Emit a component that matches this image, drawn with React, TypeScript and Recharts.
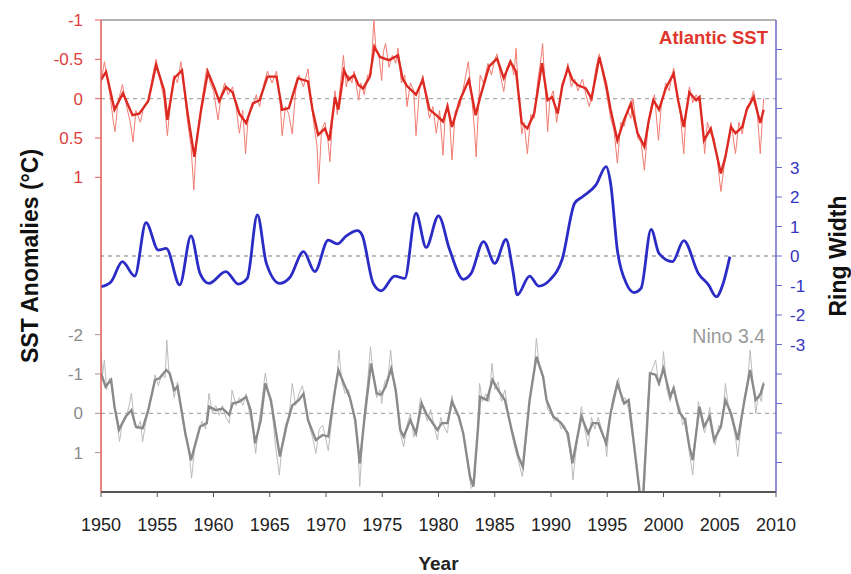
import React from 'react';
import { ComposedChart, Line, XAxis, YAxis, ReferenceLine } from 'recharts';

// [year, value] pairs
type Pt = [number, number];

const yearTicks = [1950, 1955, 1960, 1965, 1970, 1975, 1980, 1985, 1990, 1995, 2000, 2005, 2010];
const sstTicks = [-1, -0.5, 0, 0.5, 1];
const ninoTicks = [-2, -1, 0, 1];
const ringTicks = [-7, -6, -5, -4, -3, -2, -1, 0, 1, 2, 3, 4, 5, 6, 7];
const ringLabelled = [-3, -2, -1, 0, 1, 2, 3];

// Atlantic SST anomaly (°C), smoothed
const atlanticSmooth: Pt[] = [
  [1950.0, -0.24], [1950.45, -0.34], [1951.2, 0.14], [1951.95, -0.07], [1952.8, 0.21], [1953.4, 0.19],
  [1954.2, 0.03], [1954.9, -0.43], [1955.6, -0.11], [1955.9, 0.27], [1956.5, -0.26], [1957.2, -0.36],
  [1957.7, 0.19], [1958.3, 0.74], [1958.9, 0.14], [1959.5, -0.34], [1960.1, -0.13], [1960.5, 0.03],
  [1961.1, -0.15], [1961.7, -0.08], [1962.3, 0.19], [1962.9, 0.31], [1963.5, 0.06], [1964.1, 0.02],
  [1964.8, -0.28], [1965.6, -0.28], [1966.1, 0.14], [1966.7, 0.12], [1967.5, -0.26], [1968.4, -0.22],
  [1968.8, 0.14], [1969.3, 0.46], [1969.9, 0.38], [1970.3, 0.53], [1970.8, -0.02], [1971.1, 0.14],
  [1971.6, -0.36], [1972.0, -0.24], [1972.5, -0.30], [1972.9, -0.17], [1973.3, -0.13], [1973.9, -0.28],
  [1974.3, -0.66], [1974.8, -0.53], [1975.2, -0.51], [1975.6, -0.49], [1976.4, -0.55], [1976.8, -0.26],
  [1977.2, -0.16], [1978.0, -0.05], [1978.6, -0.24], [1979.2, 0.14], [1979.8, 0.21], [1980.4, 0.29],
  [1980.8, 0.10], [1981.2, 0.36], [1981.9, 0.02], [1982.7, -0.24], [1983.3, 0.21], [1983.7, -0.02],
  [1984.5, -0.41], [1985.2, -0.51], [1985.8, -0.26], [1986.4, -0.47], [1986.9, -0.34], [1987.4, 0.31],
  [1987.9, 0.38], [1988.5, 0.19], [1989.2, -0.45], [1989.7, 0.02], [1990.1, -0.02], [1990.6, 0.19],
  [1991.0, -0.16], [1991.5, -0.39], [1991.9, -0.24], [1992.4, -0.17], [1993.1, -0.13], [1993.6, 0.0],
  [1994.3, -0.53], [1994.9, -0.18], [1995.3, 0.14], [1995.9, 0.53], [1996.5, 0.27], [1997.1, 0.06],
  [1997.7, 0.44], [1998.3, 0.61], [1998.7, 0.27], [1999.1, 0.02], [1999.6, 0.14], [2000.2, -0.13],
  [2000.9, -0.32], [2001.3, 0.02], [2001.8, 0.36], [2002.3, -0.08], [2002.9, 0.02], [2003.2, -0.02],
  [2003.6, 0.53], [2004.2, 0.38], [2004.7, 0.69], [2005.1, 0.95], [2005.5, 0.74], [2006.0, 0.36],
  [2006.4, 0.44], [2007.0, 0.36], [2007.4, 0.14], [2008.0, -0.02], [2008.6, 0.31], [2008.9, 0.14],
];

// Atlantic SST anomaly (°C), monthly
const atlanticRaw: Pt[] = [
  [1950.0, -0.2], [1950.3, -0.47], [1950.5, -0.3], [1950.8, -0.05], [1951.1, 0.3], [1951.25, 0.42],
  [1951.5, 0.05], [1951.9, -0.18], [1952.2, 0.05], [1952.6, 0.3], [1952.85, 0.55], [1953.1, 0.15],
  [1953.5, 0.3], [1953.8, 0.1], [1954.2, 0.05], [1954.6, -0.3], [1954.9, -0.5], [1955.3, -0.2],
  [1955.6, 0.0], [1955.9, 0.47], [1956.2, 0.0], [1956.5, -0.3], [1956.8, -0.2], [1957.1, -0.47],
  [1957.4, -0.1], [1957.7, 0.3], [1958.0, 0.6], [1958.25, 1.16], [1958.5, 0.5], [1958.8, 0.2],
  [1959.1, -0.1], [1959.4, -0.39], [1959.7, -0.2], [1960.0, -0.1], [1960.4, 0.27], [1960.7, -0.05],
  [1961.0, -0.2], [1961.3, -0.05], [1961.7, -0.15], [1962.0, 0.1], [1962.3, 0.44], [1962.6, 0.15],
  [1962.85, 0.7], [1963.1, 0.2], [1963.5, 0.1], [1963.8, -0.05], [1964.1, 0.1], [1964.5, -0.2],
  [1964.8, -0.35], [1965.2, -0.2], [1965.6, -0.35], [1965.9, 0.0], [1966.1, 0.47], [1966.4, 0.1],
  [1966.7, 0.2], [1967.0, 0.45], [1967.3, -0.1], [1967.6, -0.3], [1968.0, -0.15], [1968.4, -0.38],
  [1968.7, 0.05], [1968.9, 0.3], [1969.2, 0.6], [1969.35, 1.08], [1969.6, 0.4], [1969.9, 0.3],
  [1970.15, 0.5], [1970.35, 0.8], [1970.6, 0.2], [1970.8, -0.1], [1971.0, 0.2], [1971.3, -0.2],
  [1971.55, -0.55], [1971.8, -0.15], [1972.0, -0.3], [1972.3, -0.2], [1972.5, -0.35], [1972.9, 0.02],
  [1973.1, -0.2], [1973.4, -0.05], [1973.7, -0.3], [1974.0, -0.3], [1974.25, -1.0], [1974.45, -0.6],
  [1974.7, -0.55], [1974.95, -0.23], [1975.1, -0.6], [1975.3, -0.7], [1975.6, -0.4], [1975.9, -0.55],
  [1976.2, -0.45], [1976.4, -0.64], [1976.7, -0.2], [1977.0, -0.3], [1977.2, 0.1], [1977.5, -0.2],
  [1977.8, -0.1], [1978.0, 0.47], [1978.3, -0.1], [1978.6, -0.3], [1978.9, 0.0], [1979.2, 0.25],
  [1979.5, 0.1], [1979.8, 0.44], [1980.1, 0.15], [1980.4, 0.72], [1980.6, 0.2], [1980.8, 0.05],
  [1981.0, 0.3], [1981.2, 0.78], [1981.5, 0.15], [1981.9, 0.1], [1982.3, -0.2], [1982.65, -0.47],
  [1982.9, -0.1], [1983.2, 0.4], [1983.35, 0.74], [1983.55, 0.1], [1983.7, -0.3], [1984.0, -0.2],
  [1984.4, -0.45], [1984.7, -0.3], [1985.0, -0.5], [1985.2, -0.57], [1985.5, -0.3], [1985.8, -0.09],
  [1986.1, -0.4], [1986.4, -0.5], [1986.7, -0.3], [1986.9, -0.64], [1987.1, -0.1], [1987.4, 0.45],
  [1987.6, 0.3], [1987.9, 0.7], [1988.2, 0.2], [1988.5, 0.25], [1988.8, -0.2], [1989.1, -0.5],
  [1989.25, -0.7], [1989.5, -0.1], [1989.7, 0.42], [1989.9, 0.0], [1990.2, -0.1], [1990.5, 0.3],
  [1990.7, 0.1], [1991.0, -0.2], [1991.3, -0.3], [1991.5, -0.45], [1991.8, -0.15], [1992.1, -0.25],
  [1992.4, -0.1], [1992.8, -0.25], [1993.1, -0.05], [1993.4, 0.1], [1993.7, -0.1], [1994.0, -0.4],
  [1994.3, -0.57], [1994.6, -0.3], [1994.9, -0.1], [1995.3, 0.25], [1995.6, 0.4], [1995.9, 0.82],
  [1996.2, 0.3], [1996.5, 0.35], [1996.8, 0.15], [1997.1, 0.25], [1997.3, 0.0], [1997.7, 0.5],
  [1998.0, 0.55], [1998.3, 0.91], [1998.6, 0.4], [1998.9, 0.1], [1999.2, -0.05], [1999.55, 0.53],
  [1999.8, 0.1], [2000.2, -0.2], [2000.5, -0.1], [2000.9, -0.39], [2001.2, -0.05], [2001.5, 0.2],
  [2001.8, 0.7], [2002.0, 0.2], [2002.3, -0.15], [2002.6, 0.05], [2002.9, -0.05], [2003.2, 0.05],
  [2003.5, 0.35], [2003.65, 0.7], [2003.9, 0.3], [2004.2, 0.45], [2004.5, 0.5], [2004.8, 0.8],
  [2005.1, 1.18], [2005.4, 0.85], [2005.7, 0.6], [2006.0, 0.3], [2006.4, 0.7], [2006.7, 0.3],
  [2007.0, 0.45], [2007.4, 0.1], [2007.7, 0.05], [2008.0, -0.1], [2008.3, 0.1], [2008.6, 0.7],
  [2008.9, 0.0],
];

// Tree ring width index
const ringWidth: Pt[] = [
  [1950.0, -1.04], [1950.9, -0.87], [1951.9, -0.19], [1953.0, -0.68], [1954.0, 1.13], [1955.1, 0.2],
  [1955.8, 0.26], [1957.0, -0.98], [1958.0, 0.68], [1958.8, -0.59], [1959.6, -0.93], [1961.1, -0.53],
  [1962.2, -0.95], [1963.0, -0.76], [1963.9, 1.39], [1964.7, -0.25], [1965.9, -0.93], [1966.8, -0.72],
  [1968.0, 0.15], [1969.0, -0.53], [1970.2, 0.54], [1971.0, 0.41], [1971.8, 0.68], [1972.8, 0.86],
  [1973.2, 0.72], [1974.2, -0.93], [1974.9, -1.18], [1976.1, -0.68], [1977.0, -0.76], [1978.0, 1.45],
  [1978.9, 0.29], [1980.0, 1.36], [1981.0, 0.2], [1982.2, -0.79], [1982.9, -0.59], [1984.0, 0.49],
  [1985.0, -0.25], [1986.0, 0.56], [1986.6, -0.47], [1987.0, -1.32], [1988.1, -0.68], [1988.9, -1.02],
  [1989.9, -0.81], [1991.0, -0.1], [1992.1, 1.79], [1992.8, 2.01], [1994.0, 2.41], [1994.9, 3.03],
  [1995.3, 2.46], [1995.9, 0.2], [1996.7, -0.93], [1997.4, -1.24], [1998.0, -1.1], [1998.9, 0.9],
  [1999.6, 0.09], [2000.8, -0.19], [2001.8, 0.52], [2003.1, -0.59], [2004.0, -0.98], [2004.7, -1.38],
  [2005.3, -0.93], [2005.9, -0.02],
];

// Nino 3.4 anomaly (°C), smoothed
const ninoSmooth: Pt[] = [
  [1950.0, -1.02], [1950.4, -0.68], [1950.9, -0.85], [1951.2, -0.17], [1951.6, 0.42], [1952.2, 0.08],
  [1952.7, -0.08], [1953.1, 0.34], [1953.7, 0.38], [1954.2, -0.08], [1954.8, -0.85], [1955.2, -0.89],
  [1955.8, -1.1], [1956.1, -1.02], [1956.5, -0.59], [1956.8, -0.68], [1957.5, 0.51], [1958.0, 1.19],
  [1958.8, 0.34], [1959.4, 0.25], [1959.6, -0.17], [1960.2, -0.08], [1960.8, -0.12], [1961.4, 0.04],
  [1961.7, -0.25], [1962.3, -0.3], [1962.9, -0.42], [1963.3, -0.08], [1963.7, 0.76], [1964.2, 0.17],
  [1964.6, -0.76], [1965.1, -0.34], [1965.9, 1.1], [1966.5, 0.3], [1967.0, -0.2], [1967.6, -0.34],
  [1968.0, -0.5], [1968.4, 0.17], [1969.1, 0.68], [1969.7, 0.55], [1970.2, 0.59], [1970.8, -0.59],
  [1971.1, -1.1], [1971.7, -0.68], [1972.1, -0.42], [1972.6, 0.17], [1973.0, 1.27], [1973.4, 0.17],
  [1974.0, -1.27], [1974.5, -0.51], [1974.9, -0.47], [1975.3, -0.68], [1975.8, -1.14], [1976.2, -0.59],
  [1976.6, 0.42], [1976.9, 0.59], [1977.5, 0.17], [1978.0, 0.51], [1978.5, -0.25], [1978.9, 0.0],
  [1979.3, 0.17], [1979.9, 0.42], [1980.3, 0.25], [1980.8, 0.25], [1981.2, -0.3], [1981.8, 0.08],
  [1982.2, 0.51], [1982.8, 1.61], [1983.1, 1.86], [1983.5, 0.42], [1983.7, -0.42], [1984.3, -0.34],
  [1984.8, -0.85], [1985.3, -0.59], [1985.9, -0.34], [1986.5, 0.42], [1987.1, 1.1], [1987.5, 1.36],
  [1988.1, -0.34], [1988.7, -1.44], [1989.3, -0.93], [1989.6, -0.34], [1990.2, 0.08], [1990.9, 0.25],
  [1991.5, 0.51], [1991.9, 1.27], [1992.7, 0.08], [1993.3, 0.51], [1993.7, 0.25], [1994.2, 0.25],
  [1994.9, 0.76], [1995.3, 0.0], [1995.9, -0.76], [1996.5, -0.25], [1996.9, -0.34], [1997.4, 0.85],
  [1997.9, 2.05], [1998.2, 2.05], [1998.8, -1.02], [1999.3, -0.98], [1999.6, -0.76], [2000.0, -1.14],
  [2000.6, -0.42], [2000.9, -0.64], [2001.4, -0.04], [2001.9, 0.17], [2002.3, 0.85], [2002.6, 1.19],
  [2003.2, -0.17], [2003.6, 0.34], [2004.1, 0.08], [2004.5, 0.68], [2005.1, 0.34], [2005.5, -0.34],
  [2006.0, 0.0], [2006.6, 0.68], [2007.2, -0.34], [2007.7, -1.1], [2008.2, -0.34], [2008.6, -0.47],
  [2008.9, -0.76],
];

// Nino 3.4 anomaly (°C), monthly
const ninoRaw: Pt[] = [
  [1950.0, -1.57], [1950.15, -1.0], [1950.3, -1.36], [1950.5, -0.6], [1950.75, -0.9], [1950.95, -0.7],
  [1951.2, -0.1], [1951.45, 0.3], [1951.65, 0.72], [1951.9, 0.2], [1952.2, 0.15], [1952.5, -0.2],
  [1952.7, -0.51], [1952.95, 0.2], [1953.2, 0.4], [1953.5, 0.2], [1953.7, 0.72], [1954.0, 0.2],
  [1954.3, -0.2], [1954.6, -0.6], [1954.8, -0.98], [1955.1, -0.7], [1955.4, -1.0], [1955.7, -0.9],
  [1955.85, -1.86], [1956.05, -1.0], [1956.3, -0.8], [1956.5, -0.4], [1956.8, -0.8], [1957.1, -0.1],
  [1957.5, 0.6], [1957.8, 0.9], [1958.05, 1.65], [1958.4, 0.7], [1958.7, 0.5], [1958.95, 0.2],
  [1959.3, 0.4], [1959.6, -0.51], [1959.9, 0.0], [1960.2, -0.2], [1960.5, 0.05], [1960.8, -0.2],
  [1961.1, 0.1], [1961.4, 0.25], [1961.65, -0.59], [1962.0, -0.2], [1962.3, -0.4], [1962.6, -0.2],
  [1962.9, -0.5], [1963.2, 0.0], [1963.5, 0.4], [1963.75, 1.02], [1964.0, 0.3], [1964.3, -0.3],
  [1964.6, -1.02], [1964.9, -0.5], [1965.2, -0.1], [1965.5, 0.8], [1965.85, 1.57], [1966.1, 0.8],
  [1966.4, 0.3], [1966.7, 0.1], [1967.0, -0.76], [1967.3, -0.2], [1967.6, -0.5], [1967.9, -0.7],
  [1968.2, -0.2], [1968.5, 0.3], [1968.8, 0.6], [1969.1, 1.02], [1969.4, 0.4], [1969.7, 0.3],
  [1969.95, 0.6], [1970.2, 0.95], [1970.5, 0.2], [1970.8, -0.7], [1971.0, -1.0], [1971.15, -1.61],
  [1971.4, -0.8], [1971.7, -0.5], [1972.0, -0.6], [1972.3, -0.2], [1972.6, 0.3], [1972.85, 0.9],
  [1973.0, 1.86], [1973.2, 0.9], [1973.4, 0.0], [1973.7, -0.8], [1973.95, -1.69], [1974.2, -1.0],
  [1974.5, -0.4], [1974.8, -0.6], [1974.95, -0.25], [1975.2, -0.8], [1975.5, -0.9], [1975.75, -1.61],
  [1976.0, -0.8], [1976.3, -0.3], [1976.6, 0.5], [1976.9, 0.85], [1977.2, 0.3], [1977.5, 0.0],
  [1977.8, 0.6], [1978.1, 0.3], [1978.4, -0.4], [1978.7, -0.1], [1979.0, 0.2], [1979.3, -0.1],
  [1979.6, 0.3], [1979.9, 0.68], [1980.2, 0.1], [1980.5, 0.35], [1980.8, 0.5], [1981.0, -0.1],
  [1981.2, -0.45], [1981.5, 0.0], [1981.8, 0.1], [1982.1, 0.4], [1982.4, 0.8], [1982.7, 1.5],
  [1982.9, 1.91], [1983.2, 1.8], [1983.45, 0.5], [1983.65, -0.76], [1983.9, -0.3], [1984.2, -0.5],
  [1984.5, -0.3], [1984.75, -1.27], [1985.0, -0.6], [1985.3, -0.8], [1985.6, -0.3], [1985.9, -0.6],
  [1986.2, 0.0], [1986.5, 0.5], [1986.8, 0.9], [1987.1, 1.2], [1987.45, 1.61], [1987.7, 0.9],
  [1987.9, 0.2], [1988.2, -0.5], [1988.5, -1.1], [1988.7, -1.91], [1988.95, -1.2], [1989.2, -1.0],
  [1989.5, -0.6], [1989.7, -0.1], [1990.0, 0.0], [1990.3, 0.2], [1990.6, 0.1], [1990.9, 0.4],
  [1991.2, 0.3], [1991.5, 0.7], [1991.8, 1.1], [1991.95, 1.7], [1992.2, 1.0], [1992.5, 0.3],
  [1992.7, -0.17], [1993.0, 0.4], [1993.3, 0.85], [1993.6, 0.1], [1993.9, 0.4], [1994.2, 0.1],
  [1994.5, 0.4], [1994.8, 0.7], [1994.95, 1.1], [1995.2, 0.2], [1995.5, -0.4], [1995.8, -0.7],
  [1996.0, -0.9], [1996.3, -0.3], [1996.6, -0.4], [1996.9, -0.1], [1997.2, 0.5], [1997.5, 1.1],
  [1997.8, 1.8], [1998.0, 2.2], [1998.3, 1.9], [1998.6, -0.3], [1998.85, -1.0], [1999.1, -1.2],
  [1999.3, -1.36], [1999.6, -0.7], [1999.85, -1.0], [2000.0, -1.57], [2000.3, -0.6], [2000.6, -0.3],
  [2000.9, -0.7], [2001.2, -0.3], [2001.45, -0.15], [2001.7, 0.3], [2002.0, 0.1], [2002.3, 1.0],
  [2002.6, 1.57], [2002.9, 0.5], [2003.1, -0.3], [2003.4, 0.2], [2003.65, 0.5], [2003.9, 0.2],
  [2004.1, -0.15], [2004.4, 0.5], [2004.6, 0.8], [2004.9, 0.3], [2005.1, 0.4], [2005.35, -0.2],
  [2005.5, -0.76], [2005.8, -0.1], [2006.1, 0.2], [2006.4, 0.6], [2006.6, 1.1], [2006.9, 0.3],
  [2007.2, -0.4], [2007.5, -0.9], [2007.7, -1.61], [2007.95, -0.8], [2008.2, 0.0], [2008.45, -0.5],
  [2008.7, -0.3], [2008.9, -0.8],
];

const toRows = (pts: Pt[]) => pts.map(([year, v]) => ({ year, v }));

// Each panel's axis spans the full plot height; the three domains stack the panels.
const SST_DOMAIN: [number, number] = [-1, 5];
const NINO_DOMAIN: [number, number] = [-10, 2];
const RING_DOMAIN: [number, number] = [-8, 8];

// Nino 3.4 values expressed in the SST axis units, so both share the left axis.
const ninoToSst = (g: number) =>
  SST_DOMAIN[0] + ((g - NINO_DOMAIN[0]) * (SST_DOMAIN[1] - SST_DOMAIN[0])) / (NINO_DOMAIN[1] - NINO_DOMAIN[0]);
const sstToNino = (s: number) =>
  NINO_DOMAIN[0] + ((s - SST_DOMAIN[0]) * (NINO_DOMAIN[1] - NINO_DOMAIN[0])) / (SST_DOMAIN[1] - SST_DOMAIN[0]);
const leftTicks = [...sstTicks, ...ninoTicks.map(ninoToSst)];

const RED = '#dc2a22';
const RED_LIGHT = '#f27c72';
const RED_AXIS = '#e25a55';
const RED_TEXT = '#e0403a';
const GRAY = '#8a8a8a';
const GRAY_LIGHT = '#bcbcbc';
const GRAY_TEXT = '#8c8c8c';
const BLUE = '#2b2bc6';
const BLUE_AXIS = '#6a6ad2';
const ZERO = '#a8a8a8';

const LEFT_TICK_SIZE = 6;
const LEFT_TICK_MARGIN = 12;

function LeftTick(props: any) {
  const { x, y, payload } = props;
  const value: number = payload.value;
  const isNino = value > sstTicks[sstTicks.length - 1];
  const label = isNino ? String(Math.round(sstToNino(value) * 100) / 100) : String(value);
  const color = isNino ? GRAY_TEXT : RED_TEXT;
  const lineStart = x + LEFT_TICK_MARGIN;
  return (
    <g>
      <line
        x1={lineStart}
        x2={lineStart + LEFT_TICK_SIZE}
        y1={y}
        y2={y}
        stroke={isNino ? '#b09090' : RED_AXIS}
        strokeWidth={1}
      />
      <text x={x} y={y} dy="0.355em" textAnchor="end" fill={color} fontSize={17}>
        {label}
      </text>
    </g>
  );
}

export default function App() {
  return (
    <div
      style={{
        position: 'absolute',
        left: 0,
        top: 0,
        width: 851,
        height: 574,
        background: '#ffffff',
        fontFamily: '"Liberation Sans", Arial, sans-serif',
      }}
    >
      <ComposedChart width={851} height={574} margin={{ top: 20, right: 0, bottom: 0, left: 0 }}>
        <XAxis
          dataKey="year"
          type="number"
          domain={[1950, 2010]}
          ticks={yearTicks}
          interval={0}
          allowDataOverflow
          height={82}
          axisLine={{ stroke: '#555555', strokeWidth: 2 }}
          tickLine={{ stroke: '#555555' }}
          tickSize={5}
          tickMargin={21}
          tick={{ fill: '#222222', fontSize: 18 }}
          label={{ value: 'Year', position: 'insideBottom', offset: 4, fill: '#222222', fontSize: 19, fontWeight: 'bold' }}
        />
        <YAxis
          yAxisId="sst"
          orientation="left"
          width={101}
          type="number"
          domain={SST_DOMAIN}
          reversed
          allowDataOverflow
          ticks={leftTicks}
          interval={0}
          axisLine={{ stroke: RED_AXIS, strokeWidth: 1.5 }}
          tickLine={false}
          tickSize={LEFT_TICK_SIZE}
          tickMargin={LEFT_TICK_MARGIN}
          tick={<LeftTick />}
          label={{
            value: 'SST Anomalies (°C)',
            angle: -90,
            position: 'insideLeft',
            offset: 30,
            fill: '#111111',
            fontSize: 23,
            fontWeight: 'bold',
            style: { textAnchor: 'middle' },
          }}
        />
        <YAxis yAxisId="nino" hide width={0} type="number" domain={NINO_DOMAIN} reversed allowDataOverflow />
        <YAxis
          yAxisId="ring"
          orientation="right"
          width={75}
          type="number"
          domain={RING_DOMAIN}
          allowDataOverflow
          ticks={ringTicks}
          interval={0}
          tickFormatter={(v: number) => (ringLabelled.includes(v) ? String(v) : '')}
          axisLine={{ stroke: BLUE_AXIS, strokeWidth: 1.5 }}
          tickLine={{ stroke: BLUE_AXIS }}
          tickSize={6}
          tickMargin={8}
          tick={{ fill: '#3434be', fontSize: 17 }}
          label={{
            value: 'Ring Width',
            angle: -90,
            position: 'insideRight',
            offset: 13,
            fill: '#111111',
            fontSize: 23,
            fontWeight: 'bold',
            style: { textAnchor: 'middle' },
          }}
        />

        <ReferenceLine yAxisId="sst" y={SST_DOMAIN[0]} stroke="#9a9a9a" strokeWidth={1.5} />
        <ReferenceLine yAxisId="sst" y={0} stroke={ZERO} strokeDasharray="4 4" strokeWidth={1.3} />
        <ReferenceLine yAxisId="ring" y={0} stroke={ZERO} strokeDasharray="4 4" strokeWidth={1.3} />
        <ReferenceLine yAxisId="nino" y={0} stroke={ZERO} strokeDasharray="4 4" strokeWidth={1.3} />

        <Line data={toRows(atlanticRaw)} dataKey="v" yAxisId="sst" type="linear" stroke={RED_LIGHT}
          strokeWidth={1} dot={false} activeDot={false} isAnimationActive={false} />
        <Line data={toRows(atlanticSmooth)} dataKey="v" yAxisId="sst" type="linear" stroke={RED}
          strokeWidth={2.4} dot={false} activeDot={false} isAnimationActive={false} />
        <Line data={toRows(ringWidth)} dataKey="v" yAxisId="ring" type="monotone" stroke={BLUE}
          strokeWidth={2.8} dot={false} activeDot={false} isAnimationActive={false} />
        <Line data={toRows(ninoRaw)} dataKey="v" yAxisId="nino" type="linear" stroke={GRAY_LIGHT}
          strokeWidth={1} dot={false} activeDot={false} isAnimationActive={false} />
        <Line data={toRows(ninoSmooth)} dataKey="v" yAxisId="nino" type="linear" stroke={GRAY}
          strokeWidth={2.4} dot={false} activeDot={false} isAnimationActive={false} />
      </ComposedChart>

      <div
        style={{
          position: 'absolute',
          right: 83,
          top: 29,
          fontSize: 18.5,
          lineHeight: 1,
          fontWeight: 'bold',
          color: '#e0352c',
          whiteSpace: 'nowrap',
        }}
      >
        Atlantic SST
      </div>
      <div
        style={{
          position: 'absolute',
          right: 86,
          top: 327,
          fontSize: 19.5,
          lineHeight: 1,
          color: '#9a9a9a',
          whiteSpace: 'nowrap',
        }}
      >
        Nino 3.4
      </div>
    </div>
  );
}
